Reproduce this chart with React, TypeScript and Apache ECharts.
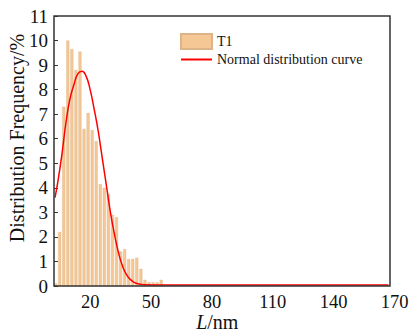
import React, { useEffect, useRef } from "react";
import * as echarts from "echarts";

// Histogram bins (bin centre, nm) and frequencies (%)
const binCenters = [3, 5, 7, 9, 11, 13, 15, 17, 19, 21, 23, 25, 27, 29, 31, 33, 35, 37, 39, 41, 43, 45, 47, 49, 51, 53, 55];
const frequencies = [0.1, 2.2, 7.3, 10.0, 9.65, 8.8, 9.55, 6.4, 7.05, 6.35, 5.9, 4.15, 4.0, 3.75, 2.9, 2.8, 1.4, 1.5, 1.1, 1.1, 1.15, 0.7, 0.25, 0.15, 0.15, 0.15, 0.25];

// Normal distribution curve
const curveL = [2.7, 4, 6, 8, 10, 12, 14, 16, 18, 20, 22, 24, 26, 28, 30, 32, 34, 36, 38, 40, 43, 47, 55, 167];
const curveV = [3.6, 4.2, 5.3, 6.6, 7.6, 8.2, 8.65, 8.75, 8.55, 8.0, 7.2, 6.3, 5.2, 4.1, 3.0, 2.1, 1.35, 0.8, 0.45, 0.25, 0.1, 0.05, 0.04, 0.04];

// x tick labels (first entry is an unlabelled axis-start placeholder)
const xAxisStart = 3;
const xTickLabels = [20, 50, 80, 110, 140, 170];
const yTicks = [0, 1, 2, 3, 4, 5, 6, 7, 8, 9, 10, 11];

const FONT = "'Liberation Serif', 'Times New Roman', serif";

export default function App() {
  const ref = useRef<HTMLDivElement>(null);
  useEffect(() => {
    if (!ref.current) return;
    const chart = echarts.init(ref.current, null, { renderer: "svg" });
    chart.setOption({
      animation: false,
      backgroundColor: "#ffffff",
      grid: { left: 54, top: 16, right: 17.4, bottom: 47, containLabel: false, outerBoundsMode: "none" },
      legend: {
        left: 180,
        top: 33,
        orient: "vertical",
        itemWidth: 31,
        itemHeight: 15,
        itemGap: 2.5,
        padding: 0,
        textStyle: { fontFamily: FONT, fontSize: 14, color: "#111" },
        data: [
          { name: "T1", icon: "rect" },
          { name: "Normal distribution curve", itemStyle: { opacity: 0 } },
        ],
      },
      xAxis: {
        type: "value",
        min: 2.2,
        max: 170,
        name: "{i|L}/nm",
        nameLocation: "middle",
        nameGap: 25.5,
        nameMoveOverlap: false,
        nameTextStyle: {
          fontFamily: FONT,
          fontSize: 20,
          lineHeight: 20,
          color: "#111",
          padding: [0, 14, 0, 0],
          rich: { i: { fontFamily: FONT, fontSize: 20, lineHeight: 20, fontStyle: "italic", color: "#111" } },
        },
        axisLine: { show: false },
        axisTick: { show: false },
        splitLine: { show: false },
        axisLabel: {
          customValues: [xAxisStart, ...xTickLabels],
          formatter: (v: number) => (xTickLabels.indexOf(v) >= 0 ? String(v) : ""),
          showMinLabel: true,
          showMaxLabel: true,
          hideOverlap: false,
          fontFamily: FONT,
          fontSize: 18.5,
          lineHeight: 18,
          color: "#111",
          margin: 7,
        },
      },
      yAxis: {
        type: "value",
        min: 0,
        max: 11,
        interval: 1,
        name: "Distribution Frequency/%",
        nameLocation: "middle",
        nameGap: 27,
        nameMoveOverlap: false,
        nameTextStyle: {
          fontFamily: FONT,
          fontSize: 20,
          lineHeight: 20,
          color: "#111",
          padding: [0, 0, 0, 26],
        },
        axisLine: { show: false },
        axisTick: { show: true, inside: true, length: 4, customValues: yTicks, lineStyle: { color: "#333", width: 1 } },
        splitLine: { show: false },
        axisLabel: { fontFamily: FONT, fontSize: 19, color: "#111", margin: 6 },
      },
      graphic: [
        {
          type: "rect",
          shape: { x: 54, y: 16, width: 336, height: 270 },
          style: { fill: "none", stroke: "#333", lineWidth: 1.5 },
          z: 100,
          silent: true,
        },
      ],
      series: [
        {
          name: "T1",
          type: "bar",
          barWidth: 3,
          data: binCenters.map((b, i) => [b, frequencies[i]]),
          itemStyle: { color: "#F4C794", borderColor: "#DDB487", borderWidth: 0.4 },
          z: 2,
        },
        {
          name: "Normal distribution curve",
          type: "line",
          smooth: true,
          symbol: "none",
          data: curveL.map((l, i) => [l, curveV[i]]),
          lineStyle: { color: "#FF0000", width: 1.5 },
          itemStyle: { color: "#FF0000" },
          z: 3,
        },
      ],
    });
    return () => chart.dispose();
  }, []);
  return (
    <div
      ref={ref}
      style={{ position: "absolute", left: 0, top: 0, width: 412, height: 333, background: "#fff" }}
    />
  );
}
